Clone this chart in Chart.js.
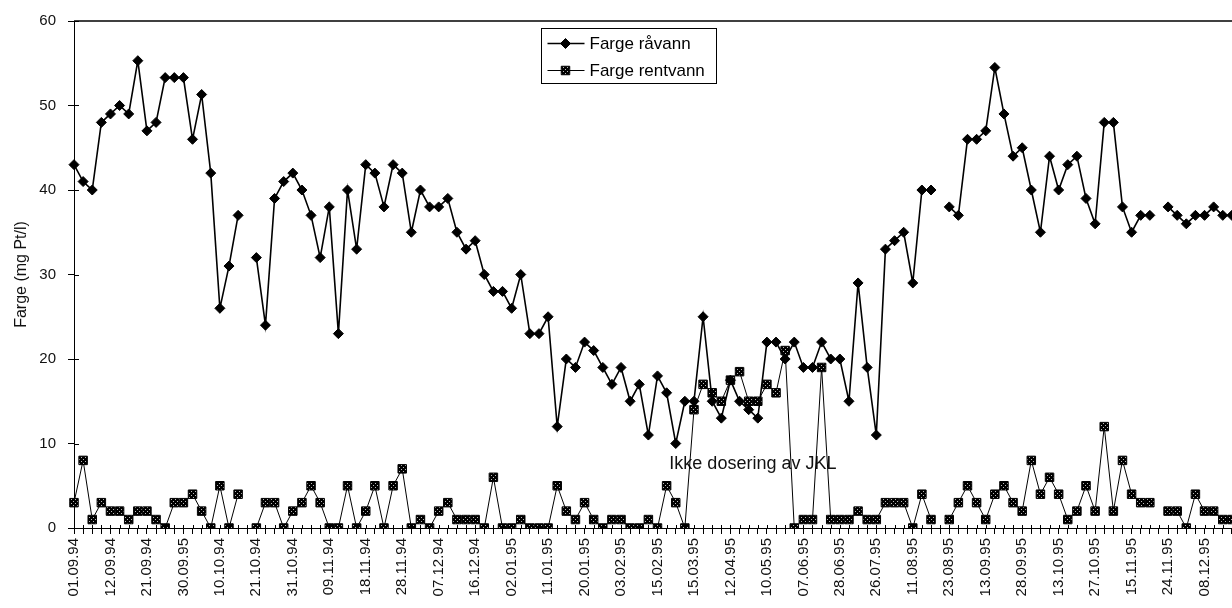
<!DOCTYPE html>
<html>
<head>
<meta charset="utf-8">
<script src="https://cdn.jsdelivr.net/npm/chart.js@4.4.0/dist/chart.umd.min.js"></script>
<style>
    html, body { margin: 0; padding: 0; background: #fff; overflow: hidden; }
    #wrap { position: absolute; left: 0; top: 0; width: 1263px; height: 608px; }
</style>
</head>
<body>
<div id="wrap"><canvas id="farge-chart" width="1263" height="608"></canvas></div>
<script>

// every 4th sample date is printed under the axis
const tickLabels = [
    '01.09.94', '12.09.94', '21.09.94', '30.09.95', '10.10.94', '21.10.94', '31.10.94',
    '09.11.94', '18.11.94', '28.11.94', '07.12.94', '16.12.94', '02.01.95', '11.01.95',
    '20.01.95', '03.02.95', '15.02.95', '15.03.95', '12.04.95', '10.05.95', '07.06.95',
    '28.06.95', '26.07.95', '11.08.95', '23.08.95', '13.09.95', '28.09.95', '13.10.95',
    '27.10.95', '15.11.95', '24.11.95', '08.12.95', '20.12.95'
];

const labelEvery = 4;

// Farge råvann (mg Pt/l), null = ingen prøve
const raavann = [
    43, 41, 40, 48, 49, 50, 49, 55.3, 47, 48, 53.3, 53.3, 53.3, 46, 51.3, 42,
    26, 31, 37, null, 32, 24, 39, 41, 42, 40, 37, 32, 38, 23, 40, 33,
    43, 42, 38, 43, 42, 35, 40, 38, 38, 39, 35, 33, 34, 30, 28, 28,
    26, 30, 23, 23, 25, 12, 20, 19, 22, 21, 19, 17, 19, 15, 17, 11,
    18, 16, 10, 15, 15, 25, 15, 13, 17.5, 15, 14, 13, 22, 22, 20, 22,
    19, 19, 22, 20, 20, 15, 29, 19, 11, 33, 34, 35, 29, 40, 40, null,
    38, 37, 46, 46, 47, 54.5, 49, 44, 45, 40, 35, 44, 40, 43, 44, 39,
    36, 48, 48, 38, 35, 37, 37, null, 38, 37, 36, 37, 37, 38, 37, 37,
    null
];

// Farge rentvann (mg Pt/l)
const rentvann = [
    3, 8, 1, 3, 2, 2, 1, 2, 2, 1, 0, 3, 3, 4, 2, 0,
    5, 0, 4, null, 0, 3, 3, 0, 2, 3, 5, 3, 0, 0, 5, 0,
    2, 5, 0, 5, 7, 0, 1, 0, 2, 3, 1, 1, 1, 0, 6, 0,
    0, 1, 0, 0, 0, 5, 2, 1, 3, 1, 0, 1, 1, 0, 0, 1,
    0, 5, 3, 0, 14, 17, 16, 15, 17.5, 18.5, 15, 15, 17, 16, 21, 0,
    1, 1, 19, 1, 1, 1, 2, 1, 1, 3, 3, 3, 0, 4, 1, null,
    1, 3, 5, 3, 1, 4, 5, 3, 2, 8, 4, 6, 4, 1, 2, 5,
    2, 12, 2, 8, 4, 3, 3, null, 2, 2, 0, 4, 2, 2, 1, 1,
    null
];

const yTicks = [0, 10, 20, 30, 40, 50, 60];

const noteText = 'Ikke dosering av JKL';
const notePos = { index: 65.3, value: 7 };

const categories = raavann.map((v, i) => i % labelEvery === 0 ? tickLabels[i / labelEvery] : '');

// dark hatch used inside the square markers
const makeHatch = () => {

    const c = document.createElement('canvas');
    c.width = 4;
    c.height = 4;
    const g = c.getContext('2d');
    g.fillStyle = '#000';
    g.fillRect(0, 0, 4, 4);
    g.fillStyle = '#bbb';
    g.fillRect(1, 1, 1, 1);
    g.fillRect(3, 3, 1, 1);
    return g.createPattern(c, 'repeat');

};

const hatch = makeHatch();

const fontFamily = 'Arial, "Liberation Sans", Helvetica, sans-serif';

Chart.defaults.font.family = fontFamily;
Chart.defaults.color = '#000';

// top frame line, tick crosses, the boxed legend and the note text
const framePlugin = {

    id: 'frame',

    beforeDatasetsDraw(chart) {

        const ctx = chart.ctx;
        const x = chart.scales.x;
        const y = chart.scales.y;

        ctx.save();
        ctx.font = '18px ' + fontFamily;
        ctx.fillStyle = '#111';
        ctx.textBaseline = 'alphabetic';
        ctx.fillText(noteText, x.getPixelForValue(notePos.index), y.getPixelForValue(notePos.value));
        ctx.restore();

    },

    afterDraw(chart) {

        const ctx = chart.ctx;
        const area = chart.chartArea;
        const x = chart.scales.x;
        const y = chart.scales.y;

        ctx.save();
        ctx.strokeStyle = '#000';

        ctx.lineWidth = 1.5;
        ctx.beginPath();
        ctx.moveTo(area.left, area.top);
        ctx.lineTo(chart.width, area.top);
        ctx.stroke();

        ctx.lineWidth = 1;
        ctx.beginPath();
        x.ticks.forEach((t, i) => {
            const px = Math.round(x.getPixelForTick(i)) + 0.5;
            ctx.moveTo(px, area.bottom);
            ctx.lineTo(px, area.bottom - 3);
        });
        yTicks.forEach(v => {
            const py = Math.round(y.getPixelForValue(v)) + 0.5;
            ctx.moveTo(area.left, py);
            ctx.lineTo(area.left + 5, py);
        });
        ctx.stroke();

        // legend
        const box = { left: 541.5, top: 28.5, width: 175, height: 55 };
        ctx.fillStyle = '#fff';
        ctx.fillRect(box.left, box.top, box.width, box.height);
        ctx.lineWidth = 1;
        ctx.strokeRect(box.left, box.top, box.width, box.height);

        ctx.font = '17px ' + fontFamily;
        ctx.textBaseline = 'middle';

        chart.data.datasets.forEach((ds, i) => {

            const ly = box.top + 15 + i * 27;

            ctx.strokeStyle = '#000';
            ctx.lineWidth = ds.borderWidth;
            ctx.beginPath();
            ctx.moveTo(box.left + 6, ly);
            ctx.lineTo(box.left + 43, ly);
            ctx.stroke();

            ctx.fillStyle = ds.pointBackgroundColor;
            ctx.strokeStyle = ds.pointBorderColor;
            ctx.lineWidth = ds.pointBorderWidth;
            Chart.helpers.drawPoint(ctx, {
                pointStyle: ds.pointStyle,
                radius: ds.pointRadius,
                borderWidth: ds.pointBorderWidth,
                rotation: 0
            }, box.left + 24, ly);

            ctx.fillStyle = '#000';
            ctx.fillText(ds.label, box.left + 48, ly + 1);

        });

        ctx.restore();

    }

};

const chart = new Chart(document.getElementById('farge-chart').getContext('2d'), {

    type: 'line',

    data: {
        labels: categories,
        datasets: [
            {
                label: 'Farge råvann',
                data: raavann,
                borderColor: '#000',
                borderWidth: 1.6,
                pointStyle: 'rectRot',
                pointRadius: 5,
                pointBackgroundColor: '#000',
                pointBorderColor: '#000',
                pointBorderWidth: 1,
                spanGaps: false,
                tension: 0
            },
            {
                label: 'Farge rentvann',
                data: rentvann,
                borderColor: '#000',
                borderWidth: 1,
                pointStyle: 'rect',
                pointRadius: 6,
                pointBackgroundColor: hatch,
                pointBorderColor: '#000',
                pointBorderWidth: 1,
                spanGaps: false,
                tension: 0
            }
        ]
    },

    options: {
        responsive: false,
        animation: false,
        events: [],
        layout: { padding: { top: 21, right: 0, left: 0, bottom: 0 } },
        plugins: {
            legend: { display: false },
            tooltip: { enabled: false }
        },
        scales: {
            x: {
                offset: false,
                border: { color: '#000', width: 1 },
                grid: { drawOnChartArea: false, color: '#000', tickLength: 6 },
                ticks: {
                    autoSkip: false,
                    minRotation: 90,
                    maxRotation: 90,
                    padding: 4,
                    color: '#111',
                    font: { size: 15 }
                },
                afterFit: scale => { scale.height = 80; }
            },
            y: {
                min: 0,
                max: 60,
                border: { color: '#000', width: 1 },
                grid: { drawOnChartArea: false, color: '#000', tickLength: 6 },
                ticks: {
                    stepSize: 10,
                    padding: 12,
                    color: '#111',
                    font: { size: 15 }
                },
                title: {
                    display: true,
                    text: 'Farge (mg Pt/l)',
                    color: '#111',
                    font: { size: 16 },
                    padding: { top: 12, bottom: 0 }
                },
                afterFit: scale => { scale.width = 74; }
            }
        }
    },

    plugins: [framePlugin]

});

</script>
</body>
</html>
